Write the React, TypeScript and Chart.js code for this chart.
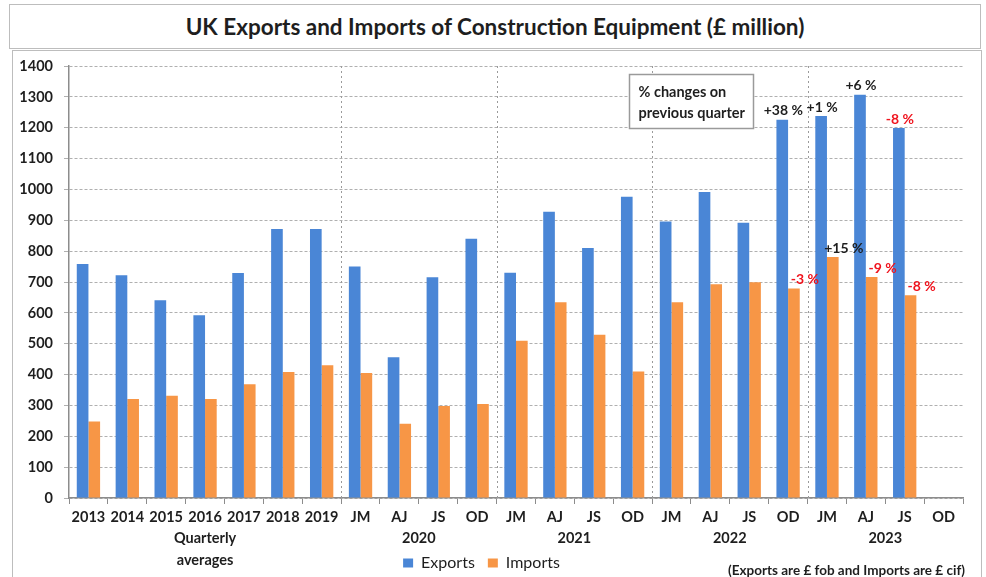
import { useEffect, useRef } from "react";
import { Chart, registerables } from "chart.js";

Chart.register(...registerables);

const title = "UK Exports and Imports of Construction Equipment (£ million)";
const categories = [
  "2013", "2014", "2015", "2016", "2017", "2018", "2019",
  "JM", "AJ", "JS", "OD",
  "JM", "AJ", "JS", "OD",
  "JM", "AJ", "JS", "OD",
  "JM", "AJ", "JS", "OD",
];
const exportsValues = [
  758, 722, 641, 592, 729, 872, 872,
  750, 456, 715, 840,
  730, 928, 810, 976,
  896, 992, 892, 1226,
  1238, 1307, 1199, null,
];
const importsValues = [
  248, 321, 331, 321, 369, 408, 430,
  405, 241, 298, 305,
  510, 634, 529, 410,
  634, 693, 699, 679,
  781, 716, 657, null,
];
const exportChanges = [
  null, null, null, null, null, null, null,
  null, null, null, null,
  null, null, null, null,
  null, null, null, "+38 %",
  "+1 %", "+6 %", "-8 %", null,
];
const importChanges = [
  null, null, null, null, null, null, null,
  null, null, null, null,
  null, null, null, null,
  null, null, null, "-3 %",
  "+15 %", "-9 %", "-8 %", null,
];
const groupLabels = [["Quarterly", "averages"], ["2020"], ["2021"], ["2022"], ["2023"]];
const groupFirst = [0, 7, 11, 15, 19];
const groupLast = [6, 10, 14, 18, 22];
const noteLines = ["% changes on", "previous quarter"];
const footnote = "(Exports are £ fob and Imports are £ cif)";
const seriesNames = ["Exports", "Imports"];

const FONT = "Lato, 'Noto Sans', sans-serif";
const BLUE = "#4a86d6";
const ORANGE = "#f79646";
const RED = "#f0141e";
const TEXT = "#1e1e1e";

const overlay = {
  id: "overlay",
  beforeDatasetsDraw(chart: any) {
    const { ctx, chartArea, scales } = chart;
    const x = scales.x;
    ctx.save();
    ctx.strokeStyle = "#9a9a9a";
    ctx.lineWidth = 1;
    ctx.setLineDash([2, 3]);
    for (let g = 1; g < groupFirst.length; g++) {
      const px = Math.round((x.getPixelForValue(groupFirst[g] - 1) + x.getPixelForValue(groupFirst[g])) / 2) + 0.5;
      ctx.beginPath();
      ctx.moveTo(px, chartArea.top);
      ctx.lineTo(px, chartArea.bottom);
      ctx.stroke();
    }
    ctx.restore();
  },
  afterDatasetsDraw(chart: any) {
    const { ctx, scales } = chart;
    const x = scales.x;
    const y = scales.y;
    const metaE = chart.getDatasetMeta(0);
    const metaI = chart.getDatasetMeta(1);
    ctx.save();
    ctx.font = `bold 14px ${FONT}`;
    ctx.textAlign = "center";
    ctx.textBaseline = "middle";
    exportChanges.forEach((t, i) => {
      if (!t) return;
      const el = metaE.data[i];
      ctx.fillStyle = t.startsWith("-") ? RED : TEXT;
      ctx.fillText(t, el.x + 1, el.y - 9);
    });
    importChanges.forEach((t, i) => {
      if (!t) return;
      const el = metaI.data[i];
      ctx.fillStyle = t.startsWith("-") ? RED : TEXT;
      ctx.fillText(t, el.x + 11, el.y - 9);
    });

    // note box
    const bx1 = Math.round(x.getPixelForValue(13.9)) + 0.5;
    const bx2 = Math.round(x.getPixelForValue(17.1)) + 0.5;
    const by1 = Math.round(y.getPixelForValue(1375)) + 0.5;
    const by2 = Math.round(y.getPixelForValue(1200)) + 0.5;
    ctx.fillStyle = "#ffffff";
    ctx.fillRect(bx1, by1, bx2 - bx1, by2 - by1);
    ctx.strokeStyle = "#9a9a9a";
    ctx.lineWidth = 1.5;
    ctx.strokeRect(bx1, by1, bx2 - bx1, by2 - by1);
    ctx.fillStyle = TEXT;
    ctx.textAlign = "left";
    ctx.font = `bold 14.5px ${FONT}`;
    ctx.fillText(noteLines[0], bx1 + 9, by1 + 18);
    ctx.fillText(noteLines[1], bx1 + 9, by1 + 39);
    ctx.restore();
  },
  afterDraw(chart: any) {
    const { ctx, scales, chartArea } = chart;
    const x = scales.x;
    ctx.save();
    ctx.fillStyle = TEXT;
    ctx.font = `bold 14.5px ${FONT}`;
    ctx.textAlign = "center";
    ctx.textBaseline = "middle";
    groupLabels.forEach((lines, g) => {
      const cx = (x.getPixelForValue(groupFirst[g]) + x.getPixelForValue(groupLast[g])) / 2;
      lines.forEach((ln, k) => {
        ctx.fillText(ln, cx, chartArea.bottom + 40 + k * 22);
      });
    });
    ctx.font = `bold 13.5px ${FONT}`;
    ctx.textAlign = "right";
    ctx.fillText(footnote, chartArea.right + 2, 571);
    ctx.restore();
  },
};

export default function App() {
  const ref = useRef<HTMLCanvasElement | null>(null);
  useEffect(() => {
    if (!ref.current) return;
    const chart = new Chart(ref.current, {
      type: "bar",
      data: {
        labels: categories,
        datasets: [
          {
            label: seriesNames[0],
            data: exportsValues,
            backgroundColor: BLUE,
            borderWidth: 0,
            categoryPercentage: 0.6,
            barPercentage: 1,
          },
          {
            label: seriesNames[1],
            data: importsValues,
            backgroundColor: ORANGE,
            borderWidth: 0,
            categoryPercentage: 0.6,
            barPercentage: 1,
          },
        ],
      },
      options: {
        responsive: false,
        animation: false,
        devicePixelRatio: 1,
        layout: { padding: { left: 0, top: 66, right: 23, bottom: 9 } },
        plugins: {
          title: { display: false },
          tooltip: { enabled: false },
          legend: {
            display: true,
            position: "bottom",
            labels: {
              boxWidth: 10,
              boxHeight: 9,
              padding: 13,
              color: TEXT,
              font: { family: FONT, size: 16 },
            },
          },
        },
        scales: {
          x: {
            afterFit: (s: any) => {
              s.height = 44;
            },
            grid: {
              display: true,
              drawOnChartArea: false,
              drawTicks: true,
              tickLength: 6,
              color: "#8c8c8c",
              offset: true,
            },
            border: { display: true, color: "#8c8c8c", width: 1.5 },
            ticks: {
              autoSkip: false,
              maxRotation: 0,
              padding: 5,
              color: TEXT,
              font: { family: FONT, size: 14.5, weight: "bold" },
            },
          },
          y: {
            min: 0,
            max: 1400,
            afterFit: (s: any) => {
              s.width = 69;
            },
            grid: {
              color: "#b0b0b0",
              tickLength: 5,
              tickColor: "#b0b0b0",
            },
            border: { display: true, color: "#8c8c8c", width: 1.5, dash: [3, 2] },
            ticks: {
              stepSize: 100,
              padding: 11,
              color: TEXT,
              font: { family: FONT, size: 14.5, weight: "bold" },
              callback: (v: any) => String(v),
            },
          },
        },
      },
      plugins: [overlay],
    });
    return () => chart.destroy();
  }, []);

  return (
    <div style={{ position: "absolute", left: 0, top: 0, width: 986, height: 577, overflow: "hidden", background: "#ffffff" }}>
      <div
        style={{
          position: "absolute",
          left: 9,
          top: 4,
          width: 972,
          height: 45,
          boxSizing: "border-box",
          border: "1px solid #bdbdbd",
          display: "flex",
          alignItems: "center",
          justifyContent: "center",
          fontFamily: FONT,
          fontWeight: 700,
          fontSize: 22.5,
          color: TEXT,
        }}
      >
        {title}
      </div>
      <div
        style={{
          position: "absolute",
          left: 12,
          top: 50,
          width: 970,
          height: 600,
          boxSizing: "border-box",
          border: "1px solid #bdbdbd",
        }}
      />
      <canvas ref={ref} width={986} height={590} style={{ position: "absolute", left: 0, top: 0 }} />
    </div>
  );
}
